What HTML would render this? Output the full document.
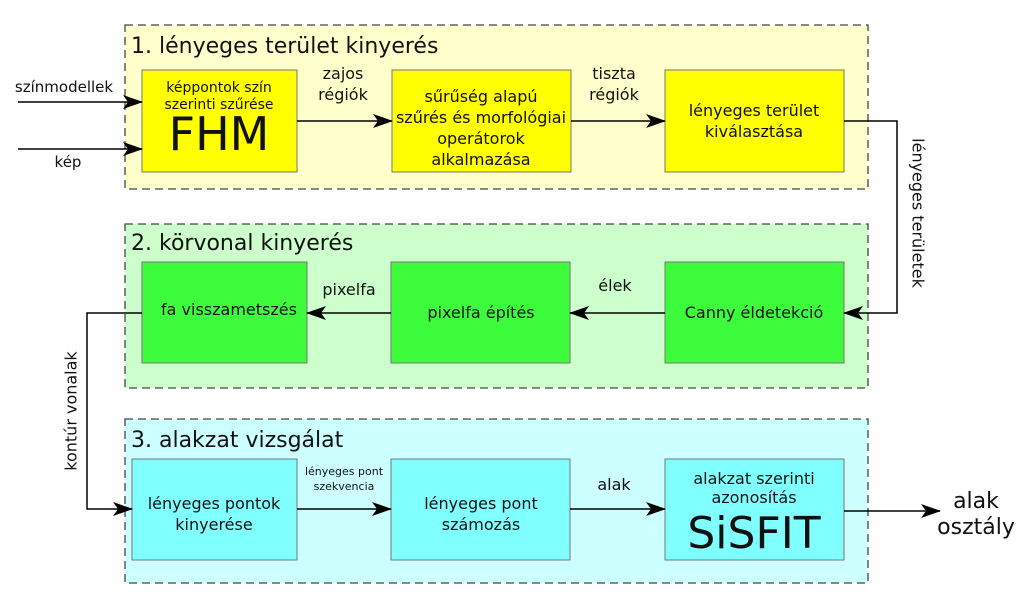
<!DOCTYPE html>
<html><head><meta charset="utf-8"><style>
html,body{margin:0;padding:0;background:#fff;}
svg{display:block;font-family:"DejaVu Sans","Liberation Sans",sans-serif;}
</style></head><body>
<svg width="1024" height="600" viewBox="0 0 1024 600" xmlns="http://www.w3.org/2000/svg">
<defs>
<marker id="a" viewBox="0 0 20 14" refX="19" refY="7" markerWidth="20" markerHeight="14" markerUnits="userSpaceOnUse" orient="auto">
<path d="M0,0 L20,7 L0,14 L5,7 Z" fill="#000"/>
</marker>
</defs>
<rect x="125" y="25" width="743" height="164" fill="#ffffcc" stroke="#444" stroke-width="1.3" stroke-dasharray="8,5"/>
<rect x="125" y="224" width="743" height="164" fill="#ccffcc" stroke="#444" stroke-width="1.3" stroke-dasharray="8,5"/>
<rect x="125" y="419" width="743" height="164" fill="#ccffff" stroke="#444" stroke-width="1.3" stroke-dasharray="8,5"/>
<g font-size="22" fill="#111">
<text x="131" y="53">1. lényeges terület kinyerés</text>
<text x="131" y="250">2. körvonal kinyerés</text>
<text x="131" y="447">3. alakzat vizsgálat</text>
</g>
<g stroke="#777" stroke-width="1">
<rect x="142" y="70" width="155" height="102" fill="#ffff00"/>
<rect x="392" y="70" width="179" height="102" fill="#ffff00"/>
<rect x="665" y="70" width="179" height="102" fill="#ffff00"/>
<rect x="142" y="262" width="165" height="101" fill="#3cfc3c"/>
<rect x="391" y="262" width="179" height="101" fill="#3cfc3c"/>
<rect x="665" y="262" width="179" height="101" fill="#3cfc3c"/>
<rect x="132" y="459" width="165" height="101" fill="#80ffff"/>
<rect x="391" y="459" width="179" height="101" fill="#80ffff"/>
<rect x="665" y="459" width="179" height="101" fill="#80ffff"/>
</g>
<g stroke="#000" stroke-width="1.5" fill="none" marker-end="url(#a)">
<line x1="18" y1="102" x2="142" y2="102"/>
<line x1="18" y1="149" x2="142" y2="149"/>
<line x1="297" y1="121" x2="392" y2="121"/>
<line x1="571" y1="121" x2="665" y2="121"/>
<polyline points="844,121 897,121 897,313 844,313"/>
<line x1="665" y1="313" x2="570" y2="313"/>
<line x1="391" y1="313" x2="307" y2="313"/>
<polyline points="142,313 87,313 87,509 132,509"/>
<line x1="297" y1="509" x2="391" y2="509"/>
<line x1="570" y1="509" x2="665" y2="509"/>
<line x1="844" y1="511" x2="940" y2="511"/>
</g>
<g font-size="16" fill="#111" text-anchor="middle">
<text x="64" y="92" font-size="15">színmodellek</text>
<text x="68" y="167" font-size="15">kép</text>
<text x="219" y="92" font-size="14">képpontok szín</text>
<text x="219" y="109" font-size="14">szerinti szűrése</text>
<text x="219" y="150" font-size="46">FHM</text>
<text x="343" y="79">zajos</text>
<text x="343" y="100">régiók</text>
<text x="481" y="102">sűrűség alapú</text>
<text x="481" y="123">szűrés és morfológiai</text>
<text x="481" y="144">operátorok</text>
<text x="481" y="165">alkalmazása</text>
<text x="614" y="79">tiszta</text>
<text x="614" y="100">régiók</text>
<text x="754" y="116">lényeges terület</text>
<text x="754" y="137">kiválasztása</text>
<text x="917" y="213" transform="rotate(90 917 213)" dominant-baseline="middle">lényeges területek</text>
<text x="754" y="318">Canny éldetekció</text>
<text x="615" y="291">élek</text>
<text x="481" y="318">pixelfa építés</text>
<text x="349" y="295">pixelfa</text>
<text x="229" y="315">fa visszametszés</text>
<text x="72" y="411" transform="rotate(-90 72 411)" dominant-baseline="middle">kontúr vonalak</text>
<text x="214" y="509">lényeges pontok</text>
<text x="214" y="530">kinyerése</text>
<text x="344" y="475" font-size="11">lényeges pont</text>
<text x="344" y="490" font-size="11">szekvencia</text>
<text x="481" y="509">lényeges pont</text>
<text x="481" y="530">számozás</text>
<text x="614" y="490">alak</text>
<text x="754" y="484">alakzat szerinti</text>
<text x="754" y="503">azonosítás</text>
<text x="754" y="548" font-size="44">SiSFIT</text>
<text x="976" y="508" font-size="22">alak</text>
<text x="976" y="534" font-size="22">osztály</text>
</g>
</svg>
</body></html>
